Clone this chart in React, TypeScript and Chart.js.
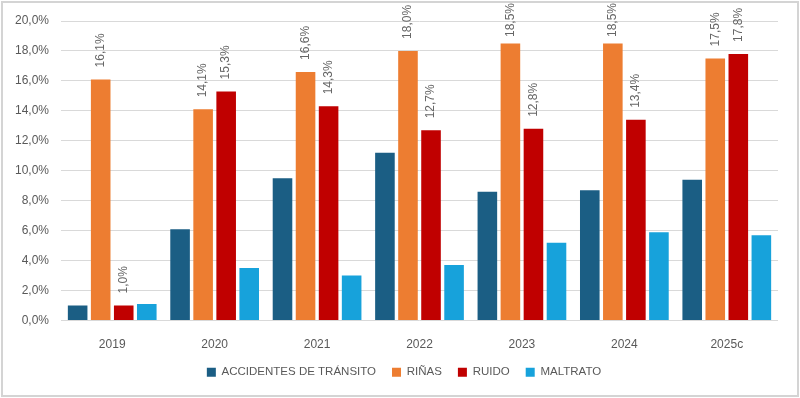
import React, { useEffect, useRef } from "react";
import { Chart, registerables } from "chart.js";

Chart.register(...registerables);

const categories = ["2019", "2020", "2021", "2022", "2023", "2024", "2025c"];
const seriesNames = ["ACCIDENTES DE TRÁNSITO", "RIÑAS", "RUIDO", "MALTRATO"];
const accidentes = [1.0, 6.1, 9.5, 11.2, 8.6, 8.7, 9.4];
const rinas = [16.1, 14.1, 16.6, 18.0, 18.5, 18.5, 17.5];
const ruido = [1.0, 15.3, 14.3, 12.7, 12.8, 13.4, 17.8];
const maltrato = [1.1, 3.5, 3.0, 3.7, 5.2, 5.9, 5.7];
const colors = ["#1b5e84", "#ed7d31", "#c00000", "#17a2db"];
const labeledSeries = [1, 2];

const fmt = (v: number) => v.toFixed(1).replace(".", ",") + "%";
const FONT = "'Liberation Sans', Arial, sans-serif";

const framePlugin = {
  id: "frame",
  beforeDraw(chart: any) {
    const ctx = chart.ctx;
    ctx.save();
    ctx.fillStyle = "#ffffff";
    ctx.fillRect(0, 0, chart.width, chart.height);
    ctx.restore();
  },
  afterLayout(chart: any) {
    const lg = chart.legend;
    if (lg) {
      lg.left = 8;
      lg.right = 800;
      lg.width = lg.right - lg.left;
    }
  },
  afterDraw(chart: any) {
    const ctx = chart.ctx;
    ctx.save();
    ctx.strokeStyle = "#d4d4d4";
    ctx.lineWidth = 2;
    ctx.strokeRect(2, 2, chart.width - 4, chart.height - 4);
    ctx.restore();
  },
};

const labelPlugin = {
  id: "barLabels",
  afterDatasetsDraw(chart: any) {
    const ctx = chart.ctx;
    ctx.save();
    ctx.font = `12px ${FONT}`;
    ctx.fillStyle = "#666666";
    ctx.textAlign = "left";
    ctx.textBaseline = "middle";
    labeledSeries.forEach((di) => {
      const meta = chart.getDatasetMeta(di);
      const data = chart.data.datasets[di].data as number[];
      meta.data.forEach((bar: any, i: number) => {
        const text = fmt(data[i]);
        const w = ctx.measureText(text).width;
        let y0 = bar.y - 12;
        if (y0 - w < 3) y0 = 3 + w;
        ctx.save();
        ctx.translate(bar.x, y0);
        ctx.rotate(-Math.PI / 2);
        ctx.fillText(text, 0, 0);
        ctx.restore();
      });
    });
    ctx.restore();
  },
};

export default function App() {
  const ref = useRef<HTMLCanvasElement | null>(null);
  useEffect(() => {
    if (!ref.current) return;
    const values = [accidentes, rinas, ruido, maltrato];
    const chart = new Chart(ref.current, {
      type: "bar",
      data: {
        labels: categories,
        datasets: seriesNames.map((name, i) => ({
          label: name,
          data: values[i],
          backgroundColor: colors[i],
          borderWidth: 0,
          categoryPercentage: 0.9,
          barPercentage: 0.85,
        })),
      },
      options: {
        responsive: false,
        animation: false,
        layout: { padding: { left: 0, right: 22, top: 21, bottom: 10 } },
        plugins: {
          legend: {
            position: "bottom",
            labels: {
              boxWidth: 9,
              boxHeight: 9,
              padding: 16,
              color: "#595959",
              font: { size: 11.5, family: FONT },
            },
          },
          tooltip: { enabled: false },
        },
        scales: {
          x: {
            grid: { display: false },
            border: { display: false },
            ticks: { color: "#595959", font: { size: 12, family: FONT }, padding: 9 },
            afterFit(scale: any) {
              scale.height = 30;
            },
          },
          y: {
            min: 0,
            max: 20,
            grid: { color: "#d9d9d9", drawTicks: false },
            border: { display: false },
            ticks: {
              stepSize: 2,
              color: "#595959",
              font: { size: 12, family: FONT },
              padding: 12,
              callback: (v: any) => fmt(Number(v)),
            },
            afterFit(scale: any) {
              scale.width = 61;
            },
          },
        },
      },
      plugins: [framePlugin, labelPlugin],
    });
    return () => chart.destroy();
  }, []);
  return (
    <div style={{ position: "fixed", left: 0, top: 0, width: 800, height: 398 }}>
      <canvas ref={ref} width={800} height={398} />
    </div>
  );
}
